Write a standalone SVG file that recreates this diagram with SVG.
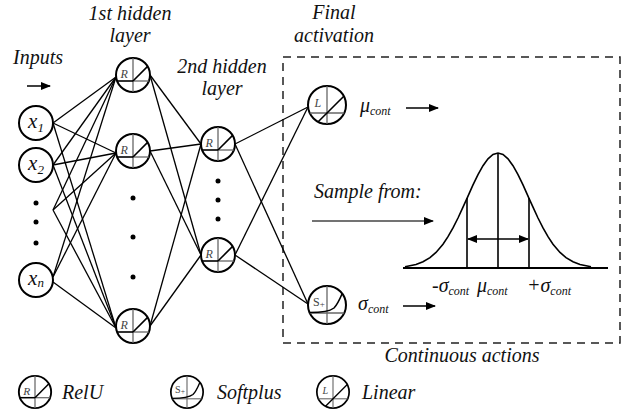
<svg xmlns="http://www.w3.org/2000/svg" xmlns:xlink="http://www.w3.org/1999/xlink" width="631" height="418" viewBox="0 0 631 418">
<style>
text{font-family:'Liberation Serif',serif;font-style:italic;fill:#111}
.lbl{font-size:20px}
.sub{font-size:12px}
.node{fill:#fff;stroke:#000;stroke-width:2}
.axis{stroke:#666;stroke-width:1.3;fill:none}
.fn{stroke:#000;stroke-width:1.6;fill:none}
.glyph{font-size:12px;fill:#444}
.dot{fill:#000}
.arr{stroke:#000;stroke-width:1.5;marker-end:url(#ah)}
.g{fill:none;stroke:#000;stroke-width:1.6}
</style>
<defs>
<marker id="ah" markerWidth="10" markerHeight="8" refX="9" refY="4" orient="auto" markerUnits="userSpaceOnUse">
<path d="M0,0 L10,4 L0,8 z" fill="#000"/>
</marker>
<marker id="ahs" markerWidth="10" markerHeight="8" refX="1" refY="4" orient="auto" markerUnits="userSpaceOnUse">
<path d="M10,0 L0,4 L10,8 z" fill="#000"/>
</marker>
<g id="relu">
<circle r="17" class="node"/>
<line x1="0" y1="-17" x2="0" y2="17" class="axis"/>
<line x1="0" y1="6" x2="15.9" y2="6" class="axis"/>
<line x1="-15.9" y1="6" x2="0" y2="6" class="fn"/>
<line x1="0" y1="6" x2="14.6" y2="-8.6" class="fn"/>
<text x="-12.5" y="3" class="glyph">R</text>
</g>
<g id="linear">
<circle r="19" class="node"/>
<line x1="0" y1="-19" x2="0" y2="19" class="axis"/>
<line x1="-17.2" y1="8" x2="17.2" y2="8" class="axis"/>
<line x1="-8.8" y1="16.8" x2="16.8" y2="-8.8" class="fn"/>
<text x="-12.5" y="2" class="glyph">L</text>
</g>
<g id="softplus">
<circle r="19" class="node"/>
<line x1="0" y1="-19" x2="0" y2="19" class="axis"/>
<line x1="-17.2" y1="8" x2="17.2" y2="8" class="axis"/>
<path d="M-17.5,7.5 C-6,7.5 2,7 7,3 C10,0 12,-4 15,-11" class="fn"/>
<text x="-14" y="1" class="glyph" style="font-style:normal">S<tspan font-size="9" dy="1">+</tspan></text>
</g>
</defs>

<!-- titles -->
<text class="lbl" x="13" y="64">Inputs</text>
<text class="lbl" x="130" y="20" text-anchor="middle">1st hidden</text>
<text class="lbl" x="130" y="42" text-anchor="middle">layer</text>
<text class="lbl" x="222" y="73" text-anchor="middle">2nd hidden</text>
<text class="lbl" x="222" y="95" text-anchor="middle">layer</text>
<text class="lbl" x="334" y="19" text-anchor="middle">Final</text>
<text class="lbl" x="334" y="42" text-anchor="middle">activation</text>
<text class="lbl" x="462" y="362" text-anchor="middle">Continuous actions</text>
<line x1="27" y1="86" x2="50" y2="86" class="arr"/>

<!-- dashed box -->
<rect x="283" y="57" width="337" height="286" fill="none" stroke="#222" stroke-width="1.5" stroke-dasharray="8,6"/>

<!-- connectors -->
<g id="connectors" stroke="#000" stroke-width="1.3">
<line x1="53" y1="123" x2="116" y2="77"/>
<line x1="53" y1="123" x2="116" y2="153"/>
<line x1="53" y1="123" x2="116" y2="328"/>
<line x1="53" y1="165" x2="116" y2="77"/>
<line x1="53" y1="165" x2="116" y2="153"/>
<line x1="53" y1="165" x2="116" y2="328"/>
<line x1="53" y1="210" x2="116" y2="77"/>
<line x1="53" y1="210" x2="116" y2="153"/>
<line x1="53" y1="210" x2="116" y2="328"/>
<line x1="53" y1="277" x2="116" y2="77"/>
<line x1="53" y1="277" x2="116" y2="153"/>
<line x1="53" y1="282" x2="116" y2="328"/>
<line x1="150" y1="75" x2="201" y2="144"/>
<line x1="150" y1="75" x2="201" y2="255"/>
<line x1="150" y1="151" x2="201" y2="144"/>
<line x1="150" y1="151" x2="201" y2="255"/>
<line x1="150" y1="326" x2="201" y2="144"/>
<line x1="150" y1="326" x2="201" y2="255"/>
<line x1="235" y1="144" x2="308" y2="107"/>
<line x1="235" y1="144" x2="308" y2="304"/>
<line x1="235" y1="255" x2="308" y2="107"/>
<line x1="235" y1="255" x2="308" y2="304"/>
</g>

<!-- inputs -->
<g id="x1"><circle cx="36" cy="123" r="17" class="node"/><text class="lbl" x="36" y="128" text-anchor="middle" style="font-size:21px">x<tspan font-size="13" dy="4">1</tspan></text></g>
<g id="x2"><circle cx="36" cy="165" r="17" class="node"/><text class="lbl" x="36" y="170" text-anchor="middle" style="font-size:21px">x<tspan font-size="13" dy="4">2</tspan></text></g>
<g id="xdots"><circle cx="36" cy="203" r="2.5" class="dot"/><circle cx="36" cy="222" r="2.5" class="dot"/><circle cx="36" cy="243" r="2.5" class="dot"/></g>
<g id="xn"><circle cx="36" cy="280" r="17" class="node"/><text class="lbl" x="36" y="285" text-anchor="middle" style="font-size:21px">x<tspan font-size="13" dy="2">n</tspan></text></g>

<!-- hidden 1 -->
<g id="h1a"><use xlink:href="#relu" x="133" y="75"/></g>
<g id="h1b"><use xlink:href="#relu" x="133" y="151"/></g>
<g id="h1dots"><circle cx="133" cy="198" r="2.5" class="dot"/><circle cx="133" cy="237" r="2.5" class="dot"/><circle cx="133" cy="277" r="2.5" class="dot"/></g>
<g id="h1c"><use xlink:href="#relu" x="133" y="326"/></g>

<!-- hidden 2 -->
<g id="h2a"><use xlink:href="#relu" x="218" y="144"/></g>
<g id="h2dots"><circle cx="218" cy="181" r="2.5" class="dot"/><circle cx="218" cy="200" r="2.5" class="dot"/><circle cx="218" cy="219" r="2.5" class="dot"/></g>
<g id="h2b"><use xlink:href="#relu" x="218" y="255"/></g>

<!-- final -->
<g id="mu"><use xlink:href="#linear" x="327" y="105"/>
<text class="lbl" x="360" y="112">μ<tspan class="sub" dy="3">cont</tspan></text>
<line x1="406" y1="108" x2="438" y2="108" class="arr"/></g>
<g id="sigma"><use xlink:href="#softplus" x="327" y="305"/>
<text class="lbl" x="358" y="310">σ<tspan class="sub" dy="3">cont</tspan></text>
<line x1="403" y1="306" x2="435" y2="306" class="arr"/></g>

<!-- sampling -->
<g id="gauss">
<text class="lbl" x="314" y="198">Sample from:</text>
<line x1="312" y1="221" x2="433" y2="221" stroke="#444" stroke-width="1.5" marker-end="url(#ah)"/>
<line x1="403" y1="268" x2="608" y2="268" stroke="#000" stroke-width="1.8"/>
<polyline class="g" stroke-width="1.8" points="405,266.7 416,264.5 423,261.8 430,257.6 436,252.4 443,244.2 448,236.7 453,227.9 458,218 463,207.2 467,198.3 473,184.9 478,174.6 483,165.7 488,158.9 493,154.5 498,153 503,154.5 508,158.9 513,165.7 518,174.6 523,184.9 529,198.3 533,207.2 538,218 543,227.9 548,236.7 553,244.2 560,252.4 566,257.6 573,261.8 580,264.5 591,266.7"/>
<line x1="467" y1="198" x2="467" y2="268" class="g"/>
<line x1="498" y1="153" x2="498" y2="268" class="g"/>
<line x1="529" y1="198" x2="529" y2="268" class="g"/>
<line x1="468" y1="239" x2="528" y2="239" stroke="#000" stroke-width="1.4" marker-start="url(#ahs)" marker-end="url(#ah)"/>
<text class="lbl" x="432" y="292">-σ<tspan class="sub" dy="3">cont</tspan></text>
<text class="lbl" x="477" y="292">μ<tspan class="sub" dy="3">cont</tspan></text>
<text class="lbl" x="527" y="292">+σ<tspan class="sub" dy="3">cont</tspan></text>
</g>

<!-- legend -->
<g id="legend">
<use xlink:href="#relu" transform="translate(35,392) scale(0.95)"/>
<text class="lbl" x="62" y="399">RelU</text>
<use xlink:href="#softplus" transform="translate(187,392) scale(0.85)"/>
<text class="lbl" x="217" y="399">Softplus</text>
<use xlink:href="#linear" transform="translate(333,392) scale(0.85)"/>
<text class="lbl" x="362" y="399">Linear</text>
</g>
</svg>
